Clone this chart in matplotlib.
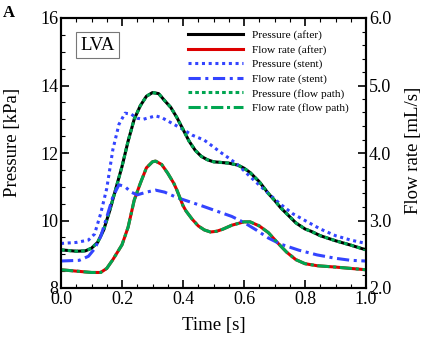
import matplotlib
matplotlib.use('Agg')
import matplotlib.pyplot as plt
from matplotlib.ticker import MultipleLocator

plt.rcParams['font.family'] = ['Liberation Serif', 'DejaVu Serif']
plt.rcParams['mathtext.fontset'] = 'stix'

# Pressure (after) [kPa]
t_p_after = [0.0, 0.05, 0.08, 0.1, 0.12, 0.14, 0.16, 0.18, 0.2, 0.22, 0.24, 0.26,
             0.28, 0.3, 0.32, 0.34, 0.36, 0.38, 0.4, 0.42, 0.44, 0.46, 0.48, 0.5,
             0.55, 0.58, 0.6, 0.62, 0.65, 0.68, 0.7, 0.72, 0.74, 0.77, 0.8, 0.82,
             0.85, 0.9, 0.95, 1.0]
p_after = [9.13, 9.09, 9.1, 9.18, 9.35, 9.72, 10.3, 10.95, 11.6, 12.35, 13.0, 13.4,
           13.68, 13.79, 13.76, 13.55, 13.35, 13.05, 12.7, 12.35, 12.08, 11.9, 11.8,
           11.74, 11.7, 11.64, 11.55, 11.42, 11.15, 10.8, 10.6, 10.38, 10.2, 9.93,
           9.75, 9.68, 9.55, 9.4, 9.27, 9.13]

# Pressure (stent) [kPa]
t_p_stent = [0.0, 0.05, 0.09, 0.11, 0.13, 0.15, 0.17, 0.19, 0.21, 0.23, 0.25, 0.27,
             0.29, 0.31, 0.33, 0.36, 0.4, 0.43, 0.47, 0.5, 0.52, 0.55, 0.58, 0.62,
             0.65, 0.68, 0.72, 0.76, 0.8, 0.85, 0.9, 0.95, 1.0]
p_stent = [9.32, 9.35, 9.42, 9.6, 10.2, 10.95, 12.1, 12.85, 13.18, 13.15, 13.03, 13.0,
           13.05, 13.1, 13.05, 12.9, 12.7, 12.53, 12.38, 12.18, 12.04, 11.85, 11.65,
           11.3, 11.05, 10.8, 10.48, 10.2, 10.0, 9.75, 9.55, 9.42, 9.32]

# Flow rate (after) [mL/s]
t_q_after = [0.0, 0.05, 0.1, 0.13, 0.15, 0.17, 0.2, 0.22, 0.24, 0.26, 0.28, 0.3,
             0.31, 0.33, 0.35, 0.37, 0.38, 0.4, 0.41, 0.43, 0.45, 0.47, 0.49, 0.51,
             0.53, 0.56, 0.6, 0.62, 0.65, 0.68, 0.71, 0.74, 0.77, 0.8, 0.84, 0.9,
             0.95, 1.0]
q_after = [2.27, 2.25, 2.23, 2.23, 2.29, 2.42, 2.64, 2.9, 3.3, 3.55, 3.78, 3.87,
           3.88, 3.83, 3.7, 3.55, 3.45, 3.22, 3.14, 3.02, 2.92, 2.86, 2.83, 2.84,
           2.87, 2.93, 2.98, 2.98, 2.92, 2.82, 2.67, 2.53, 2.42, 2.36, 2.33, 2.31,
           2.29, 2.27]

# Flow rate (stent) [mL/s]
t_q_stent = [0.0, 0.06, 0.09, 0.11, 0.13, 0.15, 0.17, 0.19, 0.21, 0.23, 0.25, 0.28,
             0.31, 0.34, 0.38, 0.42, 0.46, 0.51, 0.56, 0.6, 0.64, 0.68, 0.72, 0.78,
             0.84, 0.9, 0.95, 1.0]
q_stent = [2.4, 2.41, 2.47, 2.58, 2.76, 3.05, 3.35, 3.53, 3.5, 3.42, 3.38, 3.42,
           3.45, 3.42, 3.34, 3.28, 3.22, 3.14, 3.06, 2.97, 2.86, 2.74, 2.65, 2.56,
           2.49, 2.44, 2.41, 2.4]

# flow path results coincide with the "after" results
t_p_path, p_path = t_p_after, p_after
t_q_path, q_path = t_q_after, q_after

green = '#00a651'
blue = '#3344ff'

fig = plt.figure(figsize=(4.36, 3.40), dpi=100)
ax = fig.add_axes([61 / 436, 52 / 340, 305 / 436, 270 / 340])
ax2 = ax.twinx()

l1, = ax.plot(t_p_after, p_after, color='black', lw=2.2)
l3, = ax.plot(t_p_stent, p_stent, color=blue, lw=2.2, ls=(0, (1, 1.2)))
l5, = ax.plot(t_p_path, p_path, color=green, lw=2.2, ls=(0, (1.2, 1.0)))
l2, = ax2.plot(t_q_after, q_after, color='#dd0000', lw=2.2)
l4, = ax2.plot(t_q_stent, q_stent, color=blue, lw=2.2, ls=(0, (4, 1.5, 1, 1.5)))
l6, = ax2.plot(t_q_path, q_path, color=green, lw=2.2, ls=(0, (4, 1.2, 1, 1.2)))

ax.set_xlim(0, 1)
ax.set_ylim(8, 16)
ax2.set_ylim(2, 6)
ax.xaxis.set_major_locator(MultipleLocator(0.2))
ax.xaxis.set_minor_locator(MultipleLocator(0.05))
ax.yaxis.set_major_locator(MultipleLocator(2))
ax.yaxis.set_minor_locator(MultipleLocator(0.5))
ax2.yaxis.set_major_locator(MultipleLocator(1))
ax2.yaxis.set_minor_locator(MultipleLocator(0.2))
ax.xaxis.set_major_formatter(plt.FormatStrFormatter('%.1f'))
ax2.yaxis.set_major_formatter(plt.FormatStrFormatter('%.1f'))

ax.tick_params(which='both', direction='in', top=True, right=False, labelsize=13, pad=2)
ax.tick_params(which='major', length=6, width=1.2)
ax.tick_params(which='minor', length=3, width=0.8)
ax2.tick_params(which='both', direction='in', labelsize=13, pad=2)
ax2.tick_params(which='major', length=6, width=1.2)
ax2.tick_params(which='minor', length=3, width=0.8)
for s in ax.spines.values():
    s.set_linewidth(1.5)
for s in ax2.spines.values():
    s.set_linewidth(1.5)

ax.set_xlabel('Time [s]', fontsize=13.5)
ax.xaxis.set_label_coords(0.5, -0.108)
ax.set_ylabel('Pressure [kPa]', fontsize=13.5)
ax.yaxis.set_label_coords(-0.13, 0.54)
ax2.set_ylabel('Flow rate [mL/s]', fontsize=13.5)
ax2.yaxis.set_label_coords(1.128, 0.51)

ax.text(0.12, 0.9, 'LVA', transform=ax.transAxes, fontsize=13.5,
        ha='center', va='center',
        bbox=dict(boxstyle='square,pad=0.22', fc='white', ec='#777777', lw=0.8))
fig.text(0.006, 0.985, 'A', fontsize=12, fontweight='bold', va='top')

leg = ax.legend([l1, l2, l3, l4, l5, l6],
                ['Pressure (after)', 'Flow rate (after)', 'Pressure (stent)',
                 'Flow rate (stent)', 'Pressure (flow path)', 'Flow rate (flow path)'],
                loc='upper left', bbox_to_anchor=(0.418, 0.955), frameon=False,
                fontsize=8.2, handlelength=4.8, handletextpad=0.8,
                labelspacing=0.38, borderaxespad=0, borderpad=0)

fig.savefig('out.png', dpi=100)
